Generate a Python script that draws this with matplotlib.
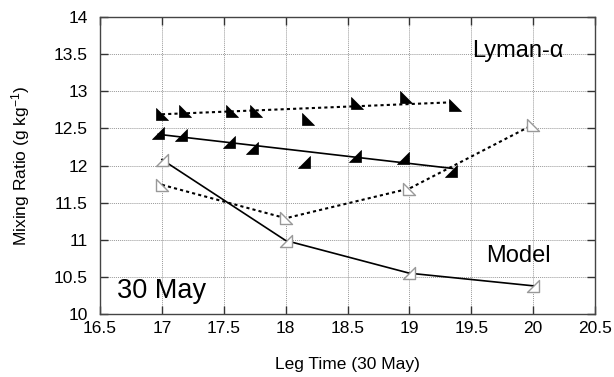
import matplotlib
matplotlib.use("Agg")
import matplotlib.pyplot as plt
from matplotlib.path import Path

# Lyman-alpha upper series (dotted fit)
lyman_up_x = [17.0, 17.19, 17.57, 17.76, 18.18, 18.58, 18.97, 19.37]
lyman_up_y = [12.69, 12.73, 12.74, 12.74, 12.63, 12.84, 12.92, 12.81]
lyman_up_fit_x = [17.0, 19.33]
lyman_up_fit_y = [12.69, 12.85]

# Lyman-alpha lower series (solid fit)
lyman_lo_x = [16.97, 17.15, 17.54, 17.73, 18.15, 18.56, 18.95, 19.34]
lyman_lo_y = [12.44, 12.41, 12.31, 12.23, 12.05, 12.13, 12.10, 11.92]
lyman_lo_fit_x = [16.97, 19.35]
lyman_lo_fit_y = [12.42, 11.96]

# Model series
model_x = [17, 18, 19, 20]
model_solid_y = [12.08, 10.99, 10.55, 10.38]
model_dotted_y = [11.74, 11.29, 11.69, 12.55]

x_ticks = [16.5, 17, 17.5, 18, 18.5, 19, 19.5, 20, 20.5]
y_ticks = [10, 10.5, 11, 11.5, 12, 12.5, 13, 13.5, 14]

plt.rcParams['font.family'] = ['Liberation Sans', 'DejaVu Sans']
plt.rcParams['mathtext.default'] = 'regular'

# right triangle markers
tri_ll = Path([(-1, 1), (-1, -1), (1, -1), (-1, 1)],
              [Path.MOVETO, Path.LINETO, Path.LINETO, Path.CLOSEPOLY])
tri_lr = Path([(1, 1), (1, -1), (-1, -1), (1, 1)],
              [Path.MOVETO, Path.LINETO, Path.LINETO, Path.CLOSEPOLY])


def create_visualization():
    fig = plt.figure(figsize=(6.14, 3.77), dpi=100)
    ax = fig.add_axes([0.163, 0.167, 0.806, 0.788])

    ax.plot(lyman_up_fit_x, lyman_up_fit_y, color='black', lw=1.5,
            linestyle=(0, (1.5, 1.5)), zorder=3)
    ax.plot(lyman_lo_fit_x, lyman_lo_fit_y, color='black', lw=1.2, zorder=3)
    ax.plot(model_x, model_solid_y, color='black', lw=1.2, zorder=3)
    ax.plot(model_x, model_dotted_y, color='black', lw=1.5,
            linestyle=(0, (1.5, 1.5)), zorder=3)

    ax.scatter(lyman_up_x, lyman_up_y, marker=tri_ll, s=70, c='black',
               edgecolors='black', linewidths=0.5, zorder=4)
    ax.scatter(lyman_lo_x, lyman_lo_y, marker=tri_lr, s=70, c='black',
               edgecolors='black', linewidths=0.5, zorder=4)
    ax.scatter(model_x, model_solid_y, marker=tri_lr, s=70, c='white',
               edgecolors='#999999', linewidths=1.0, zorder=4)
    ax.scatter(model_x, model_dotted_y, marker=tri_ll, s=70, c='white',
               edgecolors='#999999', linewidths=1.0, zorder=4)

    ax.set_xlim(16.5, 20.5)
    ax.set_ylim(10, 14)
    ax.set_xticks(x_ticks)
    ax.set_yticks(y_ticks)
    ax.set_xticklabels([f"{t:g}" for t in x_ticks])
    ax.set_yticklabels([f"{t:g}" for t in y_ticks])
    ax.grid(True, color='#999999', linestyle=(0, (1, 1)), linewidth=0.7)
    ax.tick_params(direction='in', length=6, width=1, color='#333333',
                   top=True, right=True, labelsize=12.5)
    ax.tick_params(axis='x', pad=5)
    ax.tick_params(axis='y', pad=9)
    for sp in ax.spines.values():
        sp.set_color('#444444')
        sp.set_linewidth(1.0)

    ax.set_xlabel("Leg Time (30 May)", fontsize=12.5)
    ax.set_ylabel("Mixing Ratio (g kg$^{-1}$)", fontsize=12.5)
    ax.xaxis.set_label_coords(0.5, -0.145)
    ax.yaxis.set_label_coords(-0.137, 0.5)

    ax.text(19.51, 13.46, "Lyman-α", fontsize=17, va='baseline')
    ax.text(19.62, 10.70, "Model", fontsize=17, va='baseline')
    ax.text(16.64, 10.22, "30 May", fontsize=19.5, va='baseline')

    fig.savefig("out.png", dpi=100)


if __name__ == "__main__":
    create_visualization()
